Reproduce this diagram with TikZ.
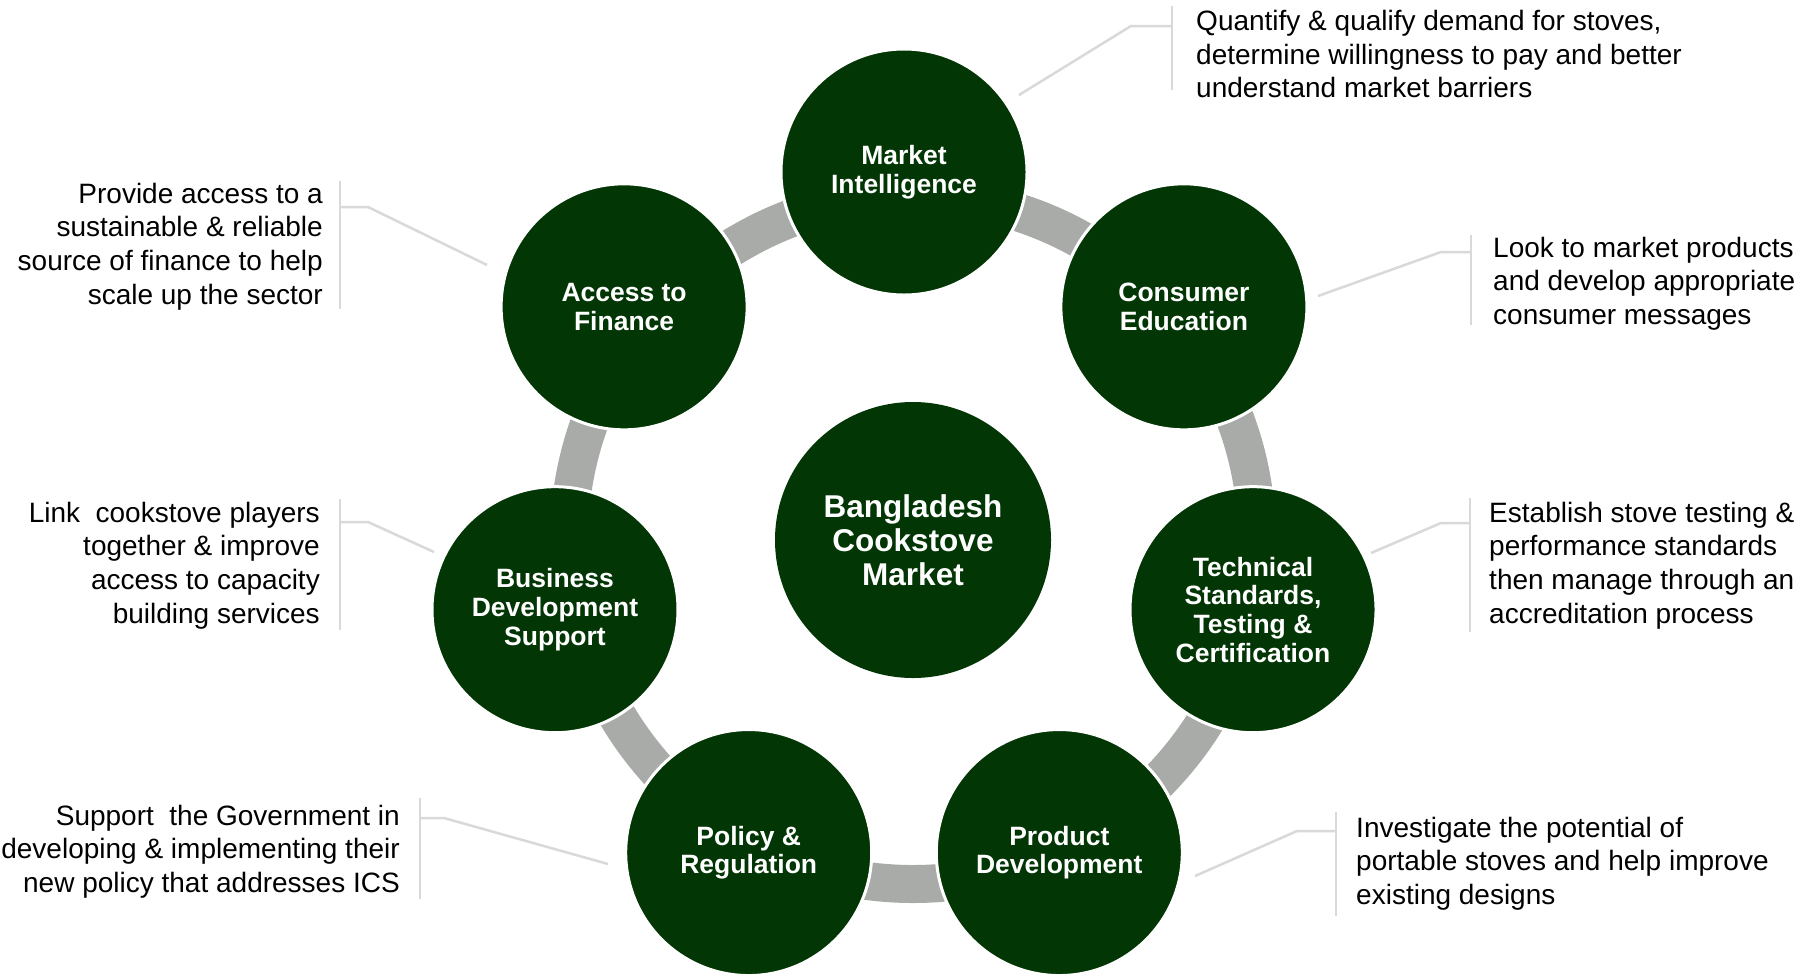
\documentclass[tikz,border=0pt]{standalone}
\usepackage{fontspec}
\setmainfont{Liberation Sans}
\definecolor{dkgreen}{RGB}{3,54,5}
\definecolor{ringgray}{RGB}{169,171,168}
\definecolor{leadgray}{RGB}{217,217,217}
\begin{document}
\begin{tikzpicture}[x=1pt,y=-1pt,
  bubble/.style={circle, fill=dkgreen, draw=white, line width=3pt, minimum size=246pt, inner sep=0pt, text=white, align=center, font=\bfseries\fontsize{26.5}{28.6}\selectfont},
  hub/.style={circle, fill=dkgreen, minimum size=276pt, inner sep=0pt, text=white, align=center, font=\bfseries\fontsize{31.5}{34}\selectfont},
  note/.style={inner sep=0pt, text=black, font=\fontsize{28}{33.6}\selectfont},
  leader/.style={draw=leadgray, line width=2.5pt},
  ringarc/.style={draw=ringgray, line width=38pt}]
\useasboundingbox (0,0) rectangle (1819,975);
\fill[white] (0,0) rectangle (1819,975);
\coordinate (c) at (904,530);
\coordinate (hc) at (913,540);
% ring connecting the outer circles
\draw[ringarc] (hc) circle[radius=344];
% outer circles
\node[bubble] (mi)  at ([shift={(-90:358)}]c)     {Market\\Intelligence};
\node[bubble] (ce)  at ([shift={(-38.57:358)}]c)  {Consumer\\Education};
\node[bubble] (ts)  at ([shift={(12.86:358)}]c)   {Technical\\Standards,\\Testing \&\\Certification};
\node[bubble] (pd)  at ([shift={(64.29:358)}]c)   {Product\\Development};
\node[bubble] (pr)  at ([shift={(115.71:358)}]c)  {Policy \&\\Regulation};
\node[bubble] (bds) at ([shift={(167.14:358)}]c)  {Business\\Development\\Support};
\node[bubble] (af)  at ([shift={(218.57:358)}]c)  {Access to\\Finance};
% hub
\node[hub] (hub) at (hc) {Bangladesh\\Cookstove\\Market};
% callout texts
\node[note, anchor=west, align=left] (mit) at (1196,54) {Quantify \& qualify demand for stoves,\\determine willingness to pay and better\\understand market barriers};
\node[note, anchor=east, align=right] (aft) at (323,246.5) {Provide access to a\\sustainable \& reliable\\source of finance to help\\scale up the sector};
\node[note, anchor=west, align=left] (cet) at (1493,283.5) {Look to market products\\and develop appropriate\\consumer messages};
\node[note, anchor=east, align=right] (bdst) at (320,565.5) {Link\ \ cookstove players\\together \& improve\\access to capacity\\building services};
\node[note, anchor=west, align=left] (tst) at (1489,565.5) {Establish stove testing \&\\performance standards\\then manage through an\\accreditation process};
\node[note, anchor=east, align=right] (prt) at (400,851.5) {Support\ \ the Government in\\developing \& implementing their\\new policy that addresses ICS};
\node[note, anchor=west, align=left] (pdt) at (1356,863.5) {Investigate the potential of\\portable stoves and help improve\\existing designs};
% leader points
\coordinate (mi-a) at (1019,95);  \coordinate (mi-b) at (1131,26);  \coordinate (mi-c) at (1172,26);
\coordinate (mi-t) at (1172,6);   \coordinate (mi-u) at (1172,90);
\coordinate (af-a) at (487,265);  \coordinate (af-b) at (368,207);  \coordinate (af-c) at (340,207);
\coordinate (af-t) at (340,181);  \coordinate (af-u) at (340,309);
\coordinate (ce-a) at (1318,296); \coordinate (ce-b) at (1441,252); \coordinate (ce-c) at (1471,252);
\coordinate (ce-t) at (1471,235); \coordinate (ce-u) at (1471,325);
\coordinate (bds-a) at (434,552); \coordinate (bds-b) at (368,522); \coordinate (bds-c) at (340,522);
\coordinate (bds-t) at (340,499); \coordinate (bds-u) at (340,630);
\coordinate (ts-a) at (1371,553); \coordinate (ts-b) at (1441,523); \coordinate (ts-c) at (1470,523);
\coordinate (ts-t) at (1470,498); \coordinate (ts-u) at (1470,632);
\coordinate (pr-a) at (608,864);  \coordinate (pr-b) at (444,818);  \coordinate (pr-c) at (420,818);
\coordinate (pr-t) at (420,798);  \coordinate (pr-u) at (420,899);
\coordinate (pd-a) at (1195,876); \coordinate (pd-b) at (1297,831); \coordinate (pd-c) at (1336,831);
\coordinate (pd-t) at (1336,812); \coordinate (pd-u) at (1336,916);
\foreach \k in {mi,af,ce,bds,ts,pr,pd}{
  \draw[leader] (\k-a) -- (\k-b) -- (\k-c);
  \draw[leader] (\k-t) -- (\k-u);
}
\end{tikzpicture}
\end{document}
